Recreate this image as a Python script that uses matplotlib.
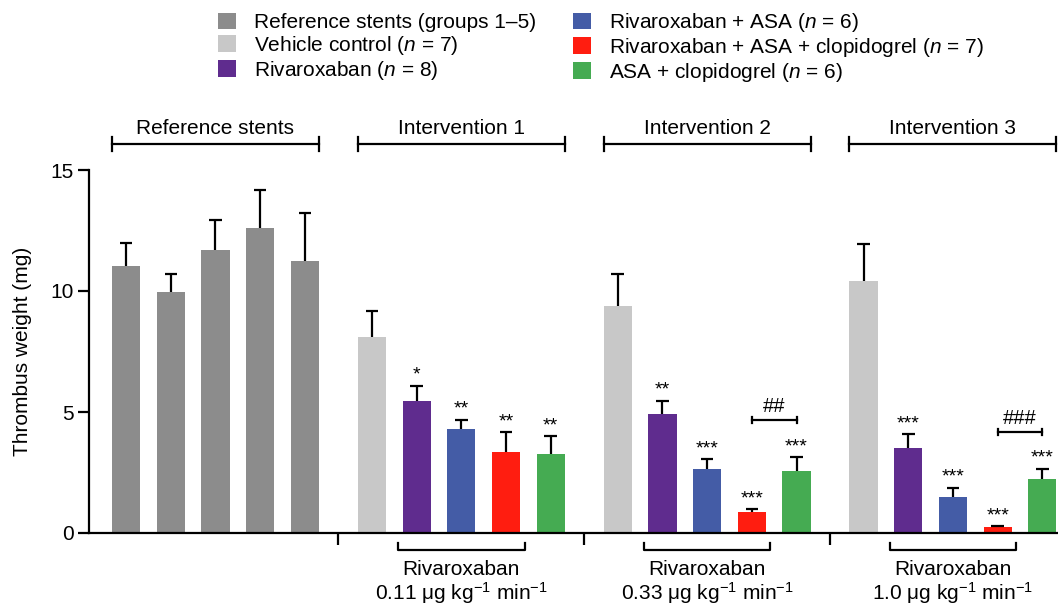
import matplotlib
matplotlib.use("Agg")
import matplotlib.pyplot as plt
from matplotlib.patches import Patch
import numpy as np

plt.rcParams['font.family'] = ['Liberation Sans', 'DejaVu Sans']
plt.rcParams['mathtext.fontset'] = 'custom'
plt.rcParams['mathtext.rm'] = 'Liberation Sans'
plt.rcParams['mathtext.it'] = 'Liberation Sans:italic'

# ---- data ----
ref_means = [11.05, 9.97, 11.68, 12.59, 11.26]
ref_errs = [0.95, 0.74, 1.27, 1.57, 1.98]

group_names = ["Intervention 1", "Intervention 2", "Intervention 3"]
doses = ["0.11", "0.33", "1.0"]
# order: vehicle, rivaroxaban, riva+ASA, riva+ASA+clop, ASA+clop
int_means = [
    [8.10, 5.47, 4.31, 3.35, 3.27],
    [9.40, 4.91, 2.64, 0.87, 2.58],
    [10.43, 3.52, 1.50, 0.26, 2.24],
]
int_errs = [
    [1.06, 0.62, 0.37, 0.82, 0.73],
    [1.32, 0.56, 0.40, 0.11, 0.54],
    [1.52, 0.57, 0.38, 0.03, 0.41],
]
stars = [
    ["", "*", "**", "**", "**"],
    ["", "**", "***", "***", "***"],
    ["", "***", "***", "***", "***"],
]
hash_marks = ["", "##", "###"]
hash_levels = [None, 4.67, 4.17]

legend_labels = [
    "Reference stents (groups 1\u20135)",
    "Vehicle control ($n$ = 7)",
    "Rivaroxaban ($n$ = 8)",
    "Rivaroxaban + ASA ($n$ = 6)",
    "Rivaroxaban + ASA + clopidogrel ($n$ = 7)",
    "ASA + clopidogrel ($n$ = 6)",
]
ref_color = "#8c8c8c"
int_colors = ["#c8c8c8", "#5f2c8e", "#445ca6", "#ff1d10", "#45ab52"]

FS = 15

# ---- figure ----
fig = plt.figure(figsize=(10.58, 6.07), dpi=100)
ax = fig.add_axes([89 / 1058, 74 / 607, (1058 - 89) / 1058, (533 - 170) / 607])

bw = 0.63
cap = 0.14
lw = 1.6

ref_x = np.arange(5)
group_starts = [5.5, 11.0, 16.5]

def draw_bar(x, m, e, c):
    ax.bar(x, m, width=bw, color=c, zorder=2)
    ax.vlines(x, m, m + e, color='black', lw=lw, zorder=3)
    ax.hlines(m + e, x - cap, x + cap, color='black', lw=lw, zorder=3)

for x, m, e in zip(ref_x, ref_means, ref_errs):
    draw_bar(x, m, e, ref_color)

for g in range(3):
    xs = group_starts[g] + np.arange(5)
    for i in range(5):
        draw_bar(xs[i], int_means[g][i], int_errs[g][i], int_colors[i])
        if stars[g][i]:
            ax.text(xs[i], int_means[g][i] + int_errs[g][i] + 0.08, stars[g][i],
                    ha='center', va='bottom', fontsize=14)
    if hash_marks[g]:
        y = hash_levels[g]
        x0, x1 = xs[3], xs[4]
        ax.plot([x0, x1], [y, y], color='black', lw=lw, clip_on=False)
        ax.plot([x0, x0], [y - 0.12, y + 0.12], color='black', lw=lw)
        ax.plot([x1, x1], [y - 0.12, y + 0.12], color='black', lw=lw)
        ax.text((x0 + x1) / 2, y + 0.18, hash_marks[g], ha='center', va='bottom', fontsize=14.5)

# top brackets
top_groups = [("Reference stents", ref_x[0], ref_x[-1])] + \
    [(group_names[g], group_starts[g], group_starts[g] + 4) for g in range(3)]
for name, a, b in top_groups:
    xa, xb = a - bw / 2, b + bw / 2
    yb = 16.07
    ax.plot([xa, xb], [yb, yb], color='black', lw=lw, clip_on=False)
    for xx in (xa, xb):
        ax.plot([xx, xx], [yb - 0.28, yb + 0.28], color='black', lw=lw, clip_on=False)
    ax.text((a + b) / 2, 16.72, name, ha='center', va='center', fontsize=FS)

# bottom brackets
for g in range(3):
    a = group_starts[g] + 1 - bw / 2 - 0.1
    b = group_starts[g] + 3 + bw / 2 + 0.1
    yb = -0.72
    ax.plot([a, a, b, b], [-0.42, yb, yb, -0.42], color='black', lw=lw, clip_on=False)
    c = group_starts[g] + 2
    ax.text(c, -1.52, "Rivaroxaban", ha='center', va='center', fontsize=FS)
    ax.text(c, -2.5, doses[g] + " \u03bcg kg$^{\u22121}$ min$^{\u22121}$",
            ha='center', va='center', fontsize=FS)

ax.set_xlim(-0.83, 20.85)
ax.set_ylim(0, 15)
ax.set_yticks([0, 5, 10, 15])
ax.set_xticks([4.75, 10.25, 15.75])
ax.set_xticklabels([])
for s in ['top', 'right']:
    ax.spines[s].set_visible(False)
for s in ['left', 'bottom']:
    ax.spines[s].set_linewidth(lw)
ax.tick_params(axis='y', length=8, width=lw, labelsize=FS, pad=3)
ax.tick_params(axis='x', length=8.5, width=lw)
ax.set_ylabel("Thrombus weight (mg)", fontsize=FS, labelpad=13)

# legend
colors_all = [ref_color] + int_colors
handles = [Patch(facecolor=c, edgecolor='none') for c in colors_all]
fig.legend(handles, legend_labels, ncol=2, loc='upper left',
           bbox_to_anchor=(214 / 1058, 1.0 - 7 / 607), frameon=False,
           fontsize=FS, handlelength=0.85, handleheight=0.85, handletextpad=0.85,
           labelspacing=0.08, columnspacing=1.8, borderaxespad=0, borderpad=0.2)

fig.savefig("out.png", dpi=100)
